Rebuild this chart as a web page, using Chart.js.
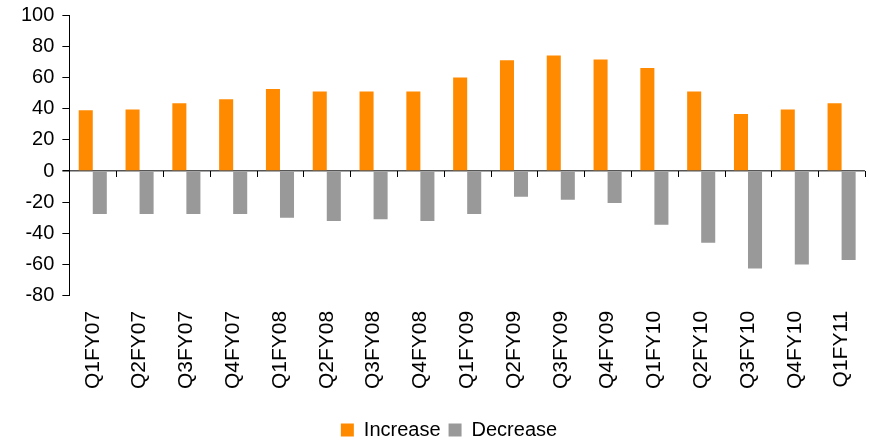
<!DOCTYPE html>
<html>
<head>
<meta charset="utf-8">
<script src="https://cdn.jsdelivr.net/npm/chart.js@4.4.0/dist/chart.umd.min.js"></script>
<style>
  html, body { margin: 0; padding: 0; background: #fff; }
  #wrap { width: 869px; height: 445px; }
</style>
</head>
<body>
<div id="wrap"><canvas id="myChart"></canvas></div>
<script>
const quarters = ['Q1FY07','Q2FY07','Q3FY07','Q4FY07','Q1FY08','Q2FY08','Q3FY08','Q4FY08',
                  'Q1FY09','Q2FY09','Q3FY09','Q4FY09','Q1FY10','Q2FY10','Q3FY10','Q4FY10','Q1FY11'];
const increase = [39, 39.5, 43.5, 46, 52.5, 51, 51, 51, 60, 71, 74, 71.5, 66, 51, 36.5, 39.5, 43.5];
const decrease = [-27.5, -27.5, -27.5, -27.5, -30, -32, -31, -32, -27.5, -16.5, -18.5, -20.5, -34.5, -46, -62.5, -60, -57];
const yMin = -80, yMax = 100, yStep = 20;

// little down ticks on the zero line, between categories
const zeroTicks = {
    id: 'zeroTicks',
    afterLayout(chart) {
        // nudge legend a bit right and down like the original
        const lg = chart.legend;
        lg.left += 10; lg.right += 10;
        lg.top += 5; lg.bottom += 5;
    },
    afterDatasetsDraw(chart) {
        const x = chart.scales.x, y = chart.scales.y;
        const y0 = y.getPixelForValue(0);
        const half = (x.getPixelForValue(1) - x.getPixelForValue(0)) / 2;
        const c = chart.ctx;
        c.save();
        c.strokeStyle = '#000';
        c.lineWidth = 1;
        c.beginPath();
        for (let i = 0; i < quarters.length; i++) {
            const px = Math.round(x.getPixelForValue(i) + half) + 0.5;
            c.moveTo(px, y0);
            c.lineTo(px, y0 + 6);
        }
        c.stroke();
        c.restore();
    }
};

new Chart(document.getElementById('myChart'), {
    type: 'bar',
    data: {
        labels: quarters,
        datasets: [
            { label: 'Increase', data: increase, backgroundColor: '#FF8A00', categoryPercentage: 0.6, barPercentage: 1 },
            { label: 'Decrease', data: decrease, backgroundColor: '#999999', categoryPercentage: 0.6, barPercentage: 1 }
        ]
    },
    options: {
        responsive: true,
        maintainAspectRatio: false,
        animation: false,
        layout: { padding: { left: 13, right: 4, top: 0, bottom: 0 } },
        plugins: {
            legend: {
                position: 'bottom',
                labels: {
                    color: '#000',
                    font: { family: 'Liberation Sans', size: 20 },
                    boxWidth: 13,
                    boxHeight: 13,
                    padding: 8
                }
            },
            tooltip: { enabled: false }
        },
        scales: {
            x: {
                afterFit: scale => { scale.height += 11; scale.paddingRight = 0; scale.paddingLeft = 0; },
                grid: { display: false },
                border: { display: false },
                ticks: {
                    color: '#000',
                    minRotation: 90,
                    maxRotation: 90,
                    autoSkip: false,
                    padding: 7,
                    font: { family: 'Liberation Sans', size: 21 }
                }
            },
            y: {
                min: yMin,
                max: yMax,
                afterFit: scale => { scale.paddingTop = 15; },
                border: { display: true, color: '#000', width: 1 },
                grid: {
                    color: ctx => ctx.tick && ctx.tick.value === 0 ? '#555' : 'rgba(0,0,0,0)',
                    lineWidth: ctx => ctx.tick && ctx.tick.value === 0 ? 1.5 : 1,
                    tickColor: '#000',
                    tickLength: 7,
                    drawTicks: true
                },
                ticks: {
                    stepSize: yStep,
                    color: '#000',
                    padding: 8,
                    font: { family: 'Liberation Sans', size: 20 }
                }
            }
        }
    },
    plugins: [zeroTicks]
});
</script>
</body>
</html>
